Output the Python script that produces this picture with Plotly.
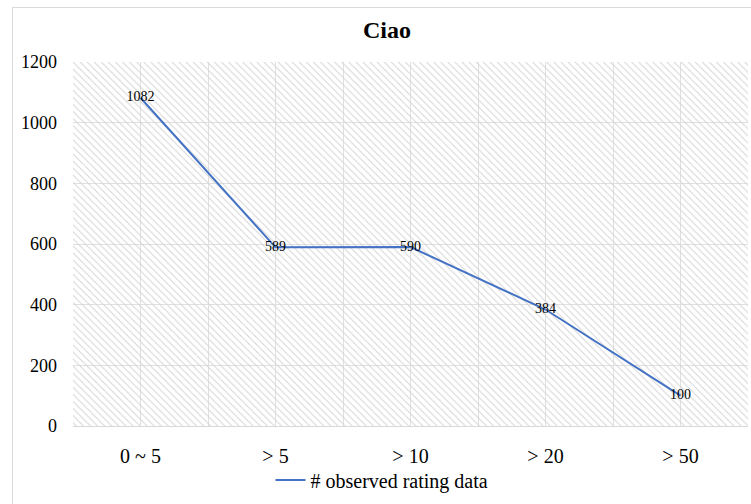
import plotly.graph_objects as go

categories = ["0 ~ 5", "> 5", "> 10", "> 20", "> 50"]
values = [1082, 589, 590, 384, 100]
series_name = "# observed rating data"
title_text = "Ciao"
y_ticks = [0, 200, 400, 600, 800, 1000, 1200]

idx = list(range(len(categories)))
serif = "Liberation Serif"

W, H = 751, 504
L, R, T, B = 73, 3, 62, 78
pw, ph = W - L - R, H - T - B

def px_x(px):
    return (px - L) / pw

def px_y(py):
    return (H - B - py) / ph

fig = go.Figure()

# hatched plot-area background (decoration spanning the axes range)
fig.add_trace(go.Bar(
    x=[(idx[0] + idx[-1]) / 2], y=[y_ticks[-1]], width=[len(idx)],
    marker=dict(color="rgba(0,0,0,0)", line=dict(width=0),
                pattern=dict(shape="\\", size=5, solidity=0.2,
                             fgcolor="#d4d4d4", bgcolor="rgba(0,0,0,0)",
                             fillmode="replace")),
    hoverinfo="skip", showlegend=False,
))

fig.add_trace(go.Scatter(
    x=idx, y=values, mode="lines+text", name=series_name,
    line=dict(color="#4472C4", width=2),
    text=[str(v) for v in values], textposition="middle center",
    textfont=dict(family=serif, size=14, color="#000000"),
))

fig.update_layout(
    width=W, height=H,
    margin=dict(l=L, r=R, t=T, b=B),
    paper_bgcolor="white", plot_bgcolor="white",
    font=dict(family=serif, color="#000000"),
    title=dict(text="<b>" + title_text + "</b>", x=387 / W, xref="container",
               xanchor="center", y=1 - 30 / H, yref="container", yanchor="middle",
               font=dict(family=serif, size=24, color="#000000")),
    legend=dict(orientation="h", x=px_x(382), xref="paper", xanchor="center",
                y=px_y(480), yref="paper", yanchor="middle",
                font=dict(family=serif, size=20, color="#000000"),
                bgcolor="rgba(0,0,0,0)", borderwidth=0),
    showlegend=True,
    barmode="overlay",
    bargap=0,
)

fig.update_xaxes(
    range=[idx[0] - 0.5, idx[-1] + 0.5],
    tickvals=idx, ticktext=categories,
    tickfont=dict(family=serif, size=20, color="#000000"),
    showgrid=True, gridcolor="#e0e0e0", gridwidth=1,
    minor=dict(dtick=0.5, tick0=0.5, showgrid=True, gridcolor="#e0e0e0", gridwidth=1),
    showline=True, linecolor="#d9d9d9", linewidth=1,
    zeroline=False, ticks="", ticklabelstandoff=12,
    fixedrange=True,
)

fig.update_yaxes(
    range=[y_ticks[0], y_ticks[-1]],
    tickvals=y_ticks,
    tickfont=dict(family=serif, size=18, color="#000000"),
    showgrid=True, gridcolor="#e0e0e0", gridwidth=1,
    zeroline=False, showline=False, ticks="", ticklabelstandoff=15,
    fixedrange=True,
)

# outer chart frame
fig.add_shape(type="rect", xref="paper", yref="paper",
              x0=px_x(12.5), x1=px_x(W + 20), y0=px_y(H + 20), y1=px_y(7.5),
              line=dict(color="#d9d9d9", width=1), fillcolor="rgba(0,0,0,0)",
              layer="below")

fig.write_html("out.html")
